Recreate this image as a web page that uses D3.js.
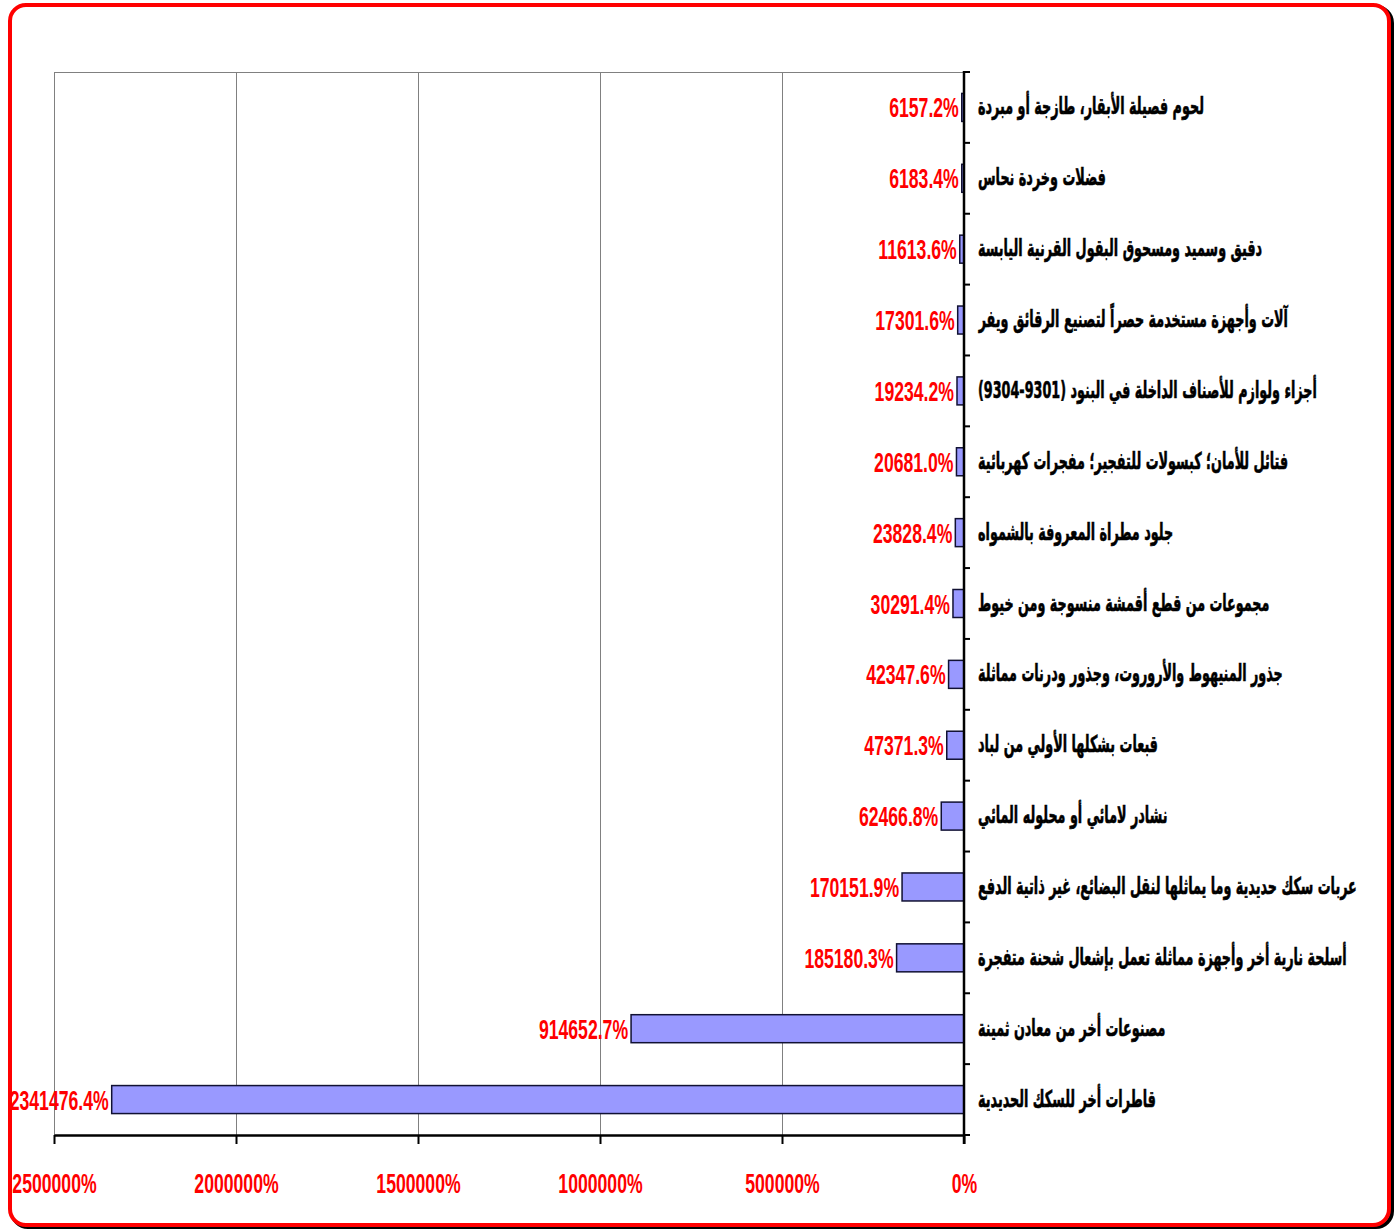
<!DOCTYPE html>
<html><head><meta charset="utf-8">
<script src="https://cdn.jsdelivr.net/npm/d3@7"></script>
<style>
html,body{margin:0;padding:0;background:#fff;}
svg{display:block;}
</style></head>
<body>
<script>
// ---- data ----
const categories = [
  "لحوم فصيلة الأبقار، طازجة أو مبردة",
  "فضلات وخردة نحاس",
  "دقيق وسميد ومسحوق البقول القرنية اليابسة",
  "آلات وأجهزة مستخدمة حصراً لتصنيع الرقائق ويفر",
  "أجزاء ولوازم للأصناف الداخلة في البنود (9301-9304)",
  "فتائل للأمان؛ كبسولات للتفجير؛ مفجرات كهربائية",
  "جلود مطراة المعروفة بالشمواه",
  "مجموعات من قطع أقمشة منسوجة ومن خيوط",
  "جذور المنيهوط والأروروت، وجذور ودرنات مماثلة",
  "قبعات بشكلها الأولي من لباد",
  "نشادر لامائي أو محلوله المائي",
  "عربات سكك حديدية وما يماثلها لنقل البضائع، غير ذاتية الدفع",
  "أسلحة نارية أخر وأجهزة مماثلة تعمل بإشعال شحنة متفجرة",
  "مصنوعات أخر من معادن ثمينة",
  "قاطرات أخر للسكك الحديدية"
];
const values = [6157.2, 6183.4, 11613.6, 17301.6, 19234.2, 20681.0, 23828.4, 30291.4, 42347.6, 47371.3, 62466.8, 170151.9, 185180.3, 914652.7, 2341476.4];
const tickValues = [0, 500000, 1000000, 1500000, 2000000, 2500000];
const tickLabels = ["0%", "500000%", "1000000%", "1500000%", "2000000%", "2500000%"];

// ---- layout ----
const W = 1398, H = 1230;
const plot = {left: 54, right: 964, top: 72, bottom: 1135};
const numFont = "'Liberation Sans Narrow','Arial Narrow','Liberation Sans',Arial,sans-serif";
const arFont = "'DejaVu Sans','DejaVu Sans Condensed',sans-serif";
const numScale = "scale(0.82,1.3)";
const arScale = "scale(0.58,1.05)";

const svg = d3.select("body").append("svg").attr("width", W).attr("height", H);

// frame with shadow
svg.append("rect").attr("x", 12).attr("y", 7).attr("width", 1380).attr("height", 1220)
  .attr("rx", 16).attr("fill", "none").attr("stroke", "#000").attr("stroke-width", 4);
svg.append("rect").attr("x", 10).attr("y", 5).attr("width", 1379).attr("height", 1220)
  .attr("rx", 16).attr("fill", "#fff").attr("stroke", "#ff0000").attr("stroke-width", 4);

const x = d3.scaleLinear().domain([0, 2500000]).range([plot.right, plot.left]);
const y = d3.scaleBand().domain(categories).range([plot.top, plot.bottom]).padding(0);
const barH = 28;

// gridlines
svg.append("g").selectAll("line").data(tickValues.filter(v => v > 0)).join("line")
  .attr("x1", d => x(d)).attr("x2", d => x(d))
  .attr("y1", plot.top).attr("y2", plot.bottom)
  .attr("stroke", "#808080").attr("stroke-width", 1).attr("shape-rendering", "crispEdges");
// top border of plot
svg.append("line").attr("x1", plot.left).attr("x2", plot.right).attr("y1", plot.top).attr("y2", plot.top)
  .attr("stroke", "#808080").attr("stroke-width", 1).attr("shape-rendering", "crispEdges");

// bars
svg.append("g").selectAll("rect").data(values).join("rect")
  .attr("x", d => x(d))
  .attr("y", (d, i) => y(categories[i]) + y.bandwidth() / 2 - barH / 2)
  .attr("width", d => x(0) - x(d))
  .attr("height", barH)
  .attr("fill", "#9999ff").attr("stroke", "#111133").attr("stroke-width", 1.5);

// bottom axis
const xAxis = d3.axisBottom(x).tickValues(tickValues).tickFormat((d, i) => tickLabels[i]).tickSize(9).tickSizeOuter(0);
const gx = svg.append("g").attr("transform", `translate(0,${plot.bottom})`).call(xAxis);
gx.select(".domain").attr("stroke", "#000").attr("stroke-width", 2.5);
gx.selectAll(".tick line").attr("stroke", "#000").attr("stroke-width", 2);
gx.selectAll(".tick text").remove();
gx.selectAll(".tick").append("g").attr("transform", "translate(0,58) " + numScale)
  .append("text").attr("text-anchor", "middle")
  .attr("font-family", numFont).attr("font-weight", "bold").attr("font-size", 21.5)
  .attr("fill", "#ff0000").text((d, i) => tickLabels[i]);

// right axis
const bounds = categories.map(c => y(c)).concat([plot.bottom]);
svg.append("line").attr("x1", plot.right).attr("x2", plot.right).attr("y1", plot.top - 1).attr("y2", plot.bottom + 9)
  .attr("stroke", "#000").attr("stroke-width", 2.5);
svg.append("g").selectAll("line").data(bounds).join("line")
  .attr("x1", plot.right).attr("x2", plot.right + 6).attr("y1", d => d).attr("y2", d => d)
  .attr("stroke", "#000").attr("stroke-width", 2);

// value labels
svg.append("g").selectAll("g").data(values).join("g")
  .attr("transform", (d, i) => `translate(${x(d) - 3},${y(categories[i]) + y.bandwidth() / 2 + 10}) ${numScale}`)
  .append("text").attr("text-anchor", "end")
  .attr("font-family", numFont).attr("font-weight", "bold").attr("font-size", 21.5)
  .attr("fill", "#ff0000").text(d => d3.format(".1f")(d) + "%");

// category labels
const labelX = 978;
const cl = svg.append("g").selectAll("g").data(categories).join("g")
  .attr("transform", d => `translate(${labelX},${y(d) + y.bandwidth() / 2 + 7}) ${arScale}`)
  .append("text")
  .attr("direction", "rtl")
  .attr("x", 0).attr("y", 0)
  .attr("text-anchor", "end")
  .attr("font-family", arFont).attr("font-weight", "bold").attr("font-size", 22)
  .attr("fill", "#000").attr("stroke", "#000").attr("stroke-width", 0.6)
  .text(d => d);
cl.each(function() {
  const b = this.getBBox();
  const t = d3.select(this);
  t.attr("x", +t.attr("x") - b.x);
});
</script>
</body></html>
